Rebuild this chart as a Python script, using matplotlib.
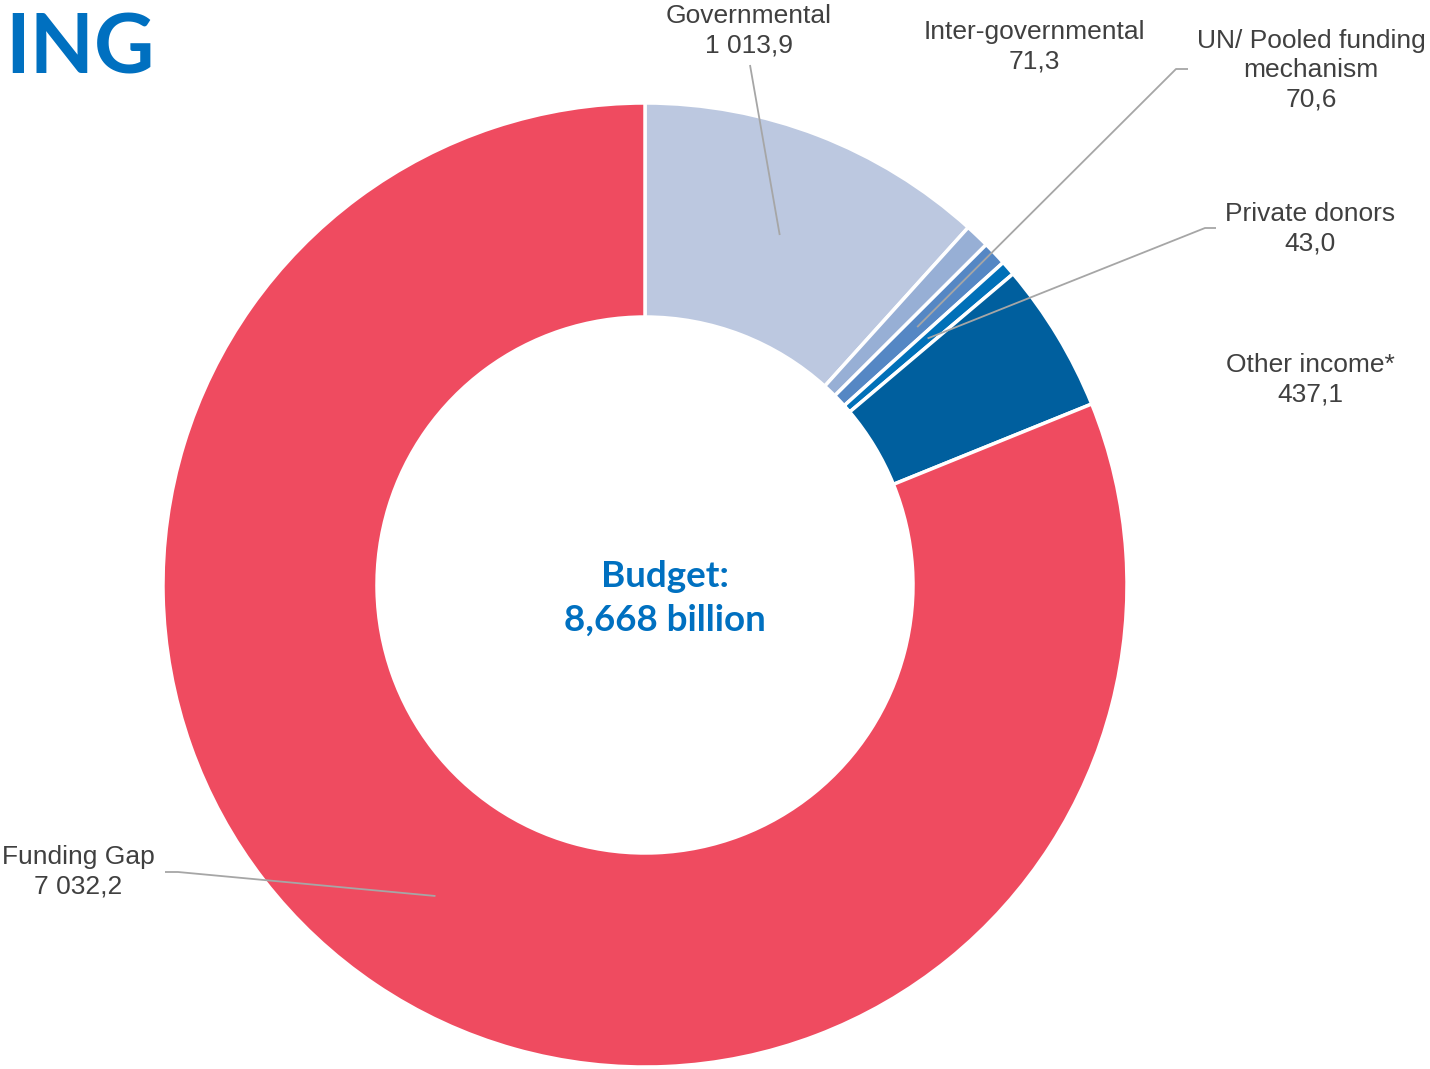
import numpy as np
import matplotlib
matplotlib.use('Agg')
import matplotlib.pyplot as plt

# ------------------------------------------------------------
# data
# ------------------------------------------------------------
categories = ['Governmental', 'Inter-governmental', 'UN/ Pooled funding\nmechanism',
              'Private donors', 'Other income*', 'Funding Gap']
values = [1013.9, 71.3, 70.6, 43.0, 437.1, 7032.2]
value_labels = ['1 013,9', '71,3', '70,6', '43,0', '437,1', '7 032,2']
colors = ['#BCC8E0', '#97AFD5', '#5587C4', '#0070B8', '#005F9E', '#EF4B60']
budget_text = 'Budget:\n8,668 billion'

W, H = 1430, 1069
def Y(py):
    return H - py

fig = plt.figure(figsize=(W / 100, H / 100), dpi=100)
ax = fig.add_axes([0, 0, 1, 1])

cx, cy = 645, Y(585)
R_out, R_in = 482, 268
wedges, _ = ax.pie(values, radius=R_out, center=(cx, cy), startangle=90,
                   counterclock=False, colors=colors,
                   wedgeprops=dict(width=R_out - R_in, edgecolor='white', linewidth=2.5))
ax.set_xlim(0, W)
ax.set_ylim(0, H)
ax.set_aspect('equal')
ax.axis('off')

# label positions (pixel centres) and leader paths
label_pos = [(749, 31), (1034, 47), (1311, 70), (1310, 229), (1310, 380), (78, 872)]
leader_path = {
    0: [(750, 65)],
    2: [(1176, 69), (1188, 69)],
    3: [(1205, 228), (1216, 228)],
    5: [(178, 872), (165, 872)],
}

txt_color = '#404040'
line_color = '#A6A6A6'
r_mid = (R_out + R_in) / 2

for i, (cat, val) in enumerate(zip(categories, value_labels)):
    px, py = label_pos[i]
    ax.text(px, Y(py), f'{cat}\n{val}', ha='center', va='center',
            fontsize=19, color=txt_color, family='Liberation Sans', linespacing=1.27)
    if i in leader_path:
        w = wedges[i]
        mid = np.deg2rad((w.theta1 + w.theta2) / 2)
        xs = [cx + r_mid * np.cos(mid)] + [p[0] for p in leader_path[i]]
        ys = [cy + r_mid * np.sin(mid)] + [Y(p[1]) for p in leader_path[i]]
        ax.plot(xs, ys, color=line_color, lw=1.3, solid_capstyle='butt')

# centre text
ax.text(665, Y(598), budget_text, ha='center', va='center', fontsize=26.5,
        fontweight='bold', color='#0070C0', family='Lato', linespacing=1.4)

# title
ax.text(5, Y(73), 'ING', ha='left', va='baseline', fontsize=60,
        fontweight='bold', color='#0070C0', family='Lato')

plt.savefig('out.png', dpi=100)
plt.close()
